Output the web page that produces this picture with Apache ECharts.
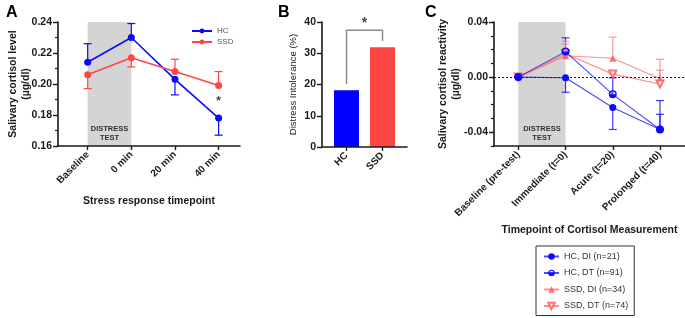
<!DOCTYPE html>
<html>
<head>
<meta charset="utf-8">
<script src="https://cdn.jsdelivr.net/npm/echarts@6/dist/echarts.min.js"></script>
<style>
html, body { margin: 0; padding: 0; background: #fff; }
#chart { width: 685px; height: 318px; }
</style>
</head>
<body>
<div id="chart"></div>
<script>
// panel A - cortisol level
const timeCats = ['Baseline', '0 min', '20 min', '40 min'];
const hcLevel = [0.214, 0.230, 0.203, 0.178];
const hcLevelErr = [0.226, 0.239, 0.193, 0.167];
const ssdLevel = [0.206, 0.217, 0.208, 0.199];
const ssdLevelErr = [0.197, 0.211, 0.216, 0.208];

// panel B - distress intolerance
const groupCats = ['HC', 'SSD'];
const intolerance = [18.2, 31.9];

// panel C - cortisol reactivity
const phaseCats = ['Baseline (pre-test)', 'Immediate (t=0)', 'Acute (t=20)', 'Prolonged (t=40)'];
const hcDI = [0, -0.0005, -0.022, -0.038];
const hcDIErr = [0, -0.011, -0.038, -0.017];
const hcDT = [0, 0.0185, -0.0125, -0.038];
const hcDTErr = [0, 0.0285, -0.0005, -0.027];
const ssdDI = [0, 0.0155, 0.0137, -0.0012];
const ssdDIErr = [0, 0.026, 0.029, 0.013];
const ssdDT = [0, 0.017, 0.0022, -0.005];
const ssdDTErr = [0, 0.024, 0.0022, 0.005];
const reactTicks = [-0.04, 0, 0.04];

const font = 'Arial, "Liberation Sans", sans-serif';
const ink = '#1a1a1a';
const blue = '#0a0aff';
const red = '#ff4646';
// circle with its lower half filled
const halfCircle = 'path://M0,10 A10,10 0 1,1 20,10 A10,10 0 1,1 0,10 Z M3.5,9.5 L16.5,9.5 A6.5,6.5 0 0,0 3.5,9.5 Z';

const pts = arr => arr.map((v, i) => [i, v]);
const errPts = (vals, ends) => vals.map((v, i) => [i, v, ends[i]]);

function errBar(color, cap, opacity) {
    return function (params, api) {
        const p0 = api.coord([api.value(0), api.value(1)]);
        const p1 = api.coord([api.value(0), api.value(2)]);
        const style = { stroke: color, lineWidth: 1.2, opacity: opacity };
        return {
            type: 'group',
            children: [
                { type: 'line', shape: { x1: p0[0], y1: p0[1], x2: p1[0], y2: p1[1] }, style: style },
                { type: 'line', shape: { x1: p1[0] - cap, y1: p1[1], x2: p1[0] + cap, y2: p1[1] }, style: style }
            ]
        };
    };
}

function lineOf() {
    return { show: true, onZero: false, lineStyle: { color: ink, width: 1.6 } };
}
const tickLabel = { color: ink, fontSize: 10.5, fontWeight: 'bold', fontFamily: font };

function catAxis(grid, min, max, names, extra) {
    const idx = names.map((n, i) => i);
    return Object.assign({
        type: 'value', gridIndex: grid, position: 'bottom', min: min, max: max, z: 5,
        splitLine: { show: false },
        axisLine: lineOf(),
        axisTick: { customValues: idx, length: 4, lineStyle: { color: ink, width: 1.4 } },
        axisLabel: Object.assign({}, tickLabel, {
            customValues: idx, rotate: 45, margin: 7, fontSize: 10,
            formatter: v => names[Math.round(v)]
        }),
        nameLocation: 'middle', nameMoveOverlap: false,
        nameTextStyle: { color: ink, fontSize: 10.5, fontWeight: 'bold', fontFamily: font }
    }, extra || {});
}

const areaLabel = {
    show: true, position: 'insideBottom', formatter: 'DISTRESS\nTEST',
    fontSize: 7.5, fontWeight: 'bold', color: '#333', lineHeight: 9, distance: 4, fontFamily: font
};

const chart = echarts.init(document.getElementById('chart'));

chart.setOption({
    animation: false,
    textStyle: { fontFamily: font },
    title: [
        { text: 'A', left: 1, top: 0, textStyle: { fontSize: 16, fontWeight: 'bold', color: '#000' } },
        { text: 'B', left: 273, top: 0, textStyle: { fontSize: 16, fontWeight: 'bold', color: '#000' } },
        { text: 'C', left: 420, top: 0, textStyle: { fontSize: 16, fontWeight: 'bold', color: '#000' } }
    ],
    legend: [
        {
            data: ['HC', 'SSD'], orient: 'vertical', left: 186, top: 22,
            itemWidth: 20, itemHeight: 6, itemGap: 3,
            textStyle: { fontSize: 8, color: '#555' }
        },
        {
            data: ['HC, DI (n=21)', 'HC, DT (n=91)', 'SSD, DI (n=34)', 'SSD, DT (n=74)'],
            orient: 'vertical', left: 536, top: 246,
            itemWidth: 15, itemHeight: 8, itemGap: 7.5,
            padding: [6, 6, 5, 7],
            borderColor: '#333', borderWidth: 1,
            textStyle: { fontSize: 9, lineHeight: 9, color: '#333' }
        }
    ],
    grid: [
        { left: 58, top: 22, width: 182, height: 124 },
        { left: 322, top: 22, width: 85, height: 125 },
        { left: 494, top: 22, width: 191, height: 124 }
    ],
    xAxis: [
        catAxis(0, -0.68, 3.49, timeCats, { name: 'Stress response timepoint', nameGap: 50 }),
        catAxis(1, -0.68, 1.68, groupCats),
        catAxis(2, -0.515, 3.53, phaseCats, { name: 'Timepoint of Cortisol Measurement', nameGap: 79 })
    ],
    yAxis: [
        {
            type: 'value', gridIndex: 0, position: 'left', min: 0.16, max: 0.24, interval: 0.02, z: 5,
            splitLine: { show: false }, axisLine: lineOf(),
            axisTick: { show: true, length: 5, lineStyle: { color: ink, width: 1.4 } },
            minorTick: { show: true, splitNumber: 2, length: 3, lineStyle: { color: ink, width: 1.2 } },
            axisLabel: Object.assign({}, tickLabel, { formatter: v => v.toFixed(2), margin: 6 }),
            name: 'Salivary cortisol level\n(µg/dl)', nameLocation: 'middle', nameRotate: 90, nameGap: 25,
            nameMoveOverlap: false,
            nameTextStyle: { color: ink, fontSize: 10.5, fontWeight: 'bold', lineHeight: 13 }
        },
        {
            type: 'value', gridIndex: 1, position: 'left', min: 0, max: 40, interval: 10, z: 5,
            splitLine: { show: false }, axisLine: lineOf(),
            axisTick: { show: true, length: 5, lineStyle: { color: ink, width: 1.4 } },
            axisLabel: Object.assign({}, tickLabel, { margin: 6 }),
            name: 'Distress Intolerance (%)', nameLocation: 'middle', nameRotate: 90, nameGap: 24,
            nameMoveOverlap: false,
            nameTextStyle: { color: ink, fontSize: 9.5 }
        },
        {
            type: 'value', gridIndex: 2, position: 'left', offset: 0, min: -0.05, max: 0.04, z: 5,
            splitLine: { show: false }, axisLine: lineOf(),
            axisTick: { show: true, customValues: reactTicks, length: 5, lineStyle: { color: ink, width: 1.4 } },
            axisLabel: Object.assign({}, tickLabel, { customValues: reactTicks, formatter: v => v.toFixed(2), margin: 6 }),
            name: 'Salivary cortisol reactivity\n(µg/dl)', nameLocation: 'middle', nameRotate: 90, nameGap: 31,
            nameMoveOverlap: false,
            nameTextStyle: { color: ink, fontSize: 10.5, fontWeight: 'bold', lineHeight: 13 }
        },
        {
            type: 'value', gridIndex: 2, position: 'left', offset: 0, min: -0.05, max: 0.04, interval: 0.01, z: 5,
            splitLine: { show: false }, axisLine: { show: false, onZero: false },
            axisTick: { show: true, length: 3, lineStyle: { color: ink, width: 1.2 } },
            axisLabel: { show: false }
        }
    ],
    series: [
        // ---- A
        {
            type: 'custom', xAxisIndex: 0, yAxisIndex: 0, z: 1,
            renderItem: errBar(blue, 4, 1), data: errPts(hcLevel, hcLevelErr)
        },
        {
            type: 'custom', xAxisIndex: 0, yAxisIndex: 0, z: 1,
            renderItem: errBar(red, 4, 1), data: errPts(ssdLevel, ssdLevelErr)
        },
        {
            name: 'HC', type: 'line', xAxisIndex: 0, yAxisIndex: 0,
            data: pts(hcLevel), symbol: 'circle', symbolSize: 7,
            itemStyle: { color: blue }, lineStyle: { color: blue, width: 1.6 },
            markArea: {
                silent: true, itemStyle: { color: '#d4d4d4' }, label: areaLabel,
                data: [[{ xAxis: 0, yAxis: 0.16 }, { xAxis: 1, yAxis: 0.2405 }]]
            }
        },
        {
            name: 'SSD', type: 'line', xAxisIndex: 0, yAxisIndex: 0,
            data: pts(ssdLevel), symbol: 'circle', symbolSize: 7,
            itemStyle: { color: red }, lineStyle: { color: red, width: 1.6 }
        },
        {
            type: 'scatter', xAxisIndex: 0, yAxisIndex: 0, symbolSize: 0,
            data: [[3, 0.1885]],
            label: { show: true, position: 'inside', formatter: '*', fontSize: 13, fontWeight: 'bold', color: ink }
        },
        // ---- B
        {
            name: 'Distress Intolerance', type: 'bar', xAxisIndex: 1, yAxisIndex: 1, barWidth: 25,
            data: intolerance.map((v, i) => ({ value: [i, v], itemStyle: { color: i === 0 ? '#0000ff' : '#ff4444' } }))
        },
        {
            type: 'line', xAxisIndex: 1, yAxisIndex: 1, symbol: 'none',
            lineStyle: { color: '#8a8a8a', width: 1.5 },
            data: [[0, 20.2], [0, 37.4], [1, 37.4], [1, 33.9]]
        },
        {
            type: 'scatter', xAxisIndex: 1, yAxisIndex: 1, symbolSize: 0,
            data: [[0.5, 39.6]],
            label: { show: true, position: 'inside', formatter: '*', fontSize: 14, fontWeight: 'bold', color: ink }
        },
        // ---- C
        {
            type: 'custom', xAxisIndex: 2, yAxisIndex: 2, z: 1,
            renderItem: errBar(blue, 4, 0.8), data: errPts(hcDI, hcDIErr)
        },
        {
            type: 'custom', xAxisIndex: 2, yAxisIndex: 2, z: 1,
            renderItem: errBar(blue, 4, 0.8), data: errPts(hcDT, hcDTErr)
        },
        {
            type: 'custom', xAxisIndex: 2, yAxisIndex: 2, z: 1,
            renderItem: errBar('#ff7070', 4, 0.7), data: errPts(ssdDI, ssdDIErr)
        },
        {
            type: 'custom', xAxisIndex: 2, yAxisIndex: 2, z: 1,
            renderItem: errBar('#ff7070', 4, 0.7), data: errPts(ssdDT, ssdDTErr)
        },
        {
            name: 'SSD, DI (n=34)', type: 'line', xAxisIndex: 2, yAxisIndex: 2,
            data: pts(ssdDI), symbol: 'triangle', symbolSize: 7,
            itemStyle: { color: '#ff5a5a', opacity: 0.85 }, lineStyle: { color: '#ff6a6a', width: 1.2, opacity: 0.75 },
            markArea: {
                silent: true, itemStyle: { color: '#d4d4d4' }, label: areaLabel,
                data: [[{ xAxis: 0, yAxis: -0.05 }, { xAxis: 1, yAxis: 0.04 }]]
            },
            markLine: {
                silent: true, symbol: 'none', label: { show: false },
                lineStyle: { color: '#222', type: [2, 2], width: 1 },
                data: [{ yAxis: 0 }]
            }
        },
        {
            name: 'SSD, DT (n=74)', type: 'line', xAxisIndex: 2, yAxisIndex: 2,
            data: pts(ssdDT), symbol: 'emptyTriangle', symbolRotate: 180, symbolSize: 7,
            itemStyle: { color: '#ff5a5a', borderWidth: 1.5, opacity: 0.85 },
            lineStyle: { color: '#ff6a6a', width: 1.2, opacity: 0.75 }
        },
        {
            name: 'HC, DT (n=91)', type: 'line', xAxisIndex: 2, yAxisIndex: 2,
            data: pts(hcDT), symbol: halfCircle, symbolSize: 8,
            itemStyle: { color: blue }, lineStyle: { color: blue, width: 1.1, opacity: 0.75 }
        },
        {
            name: 'HC, DI (n=21)', type: 'line', xAxisIndex: 2, yAxisIndex: 2,
            data: pts(hcDI), symbol: 'circle', symbolSize: 7,
            itemStyle: { color: blue }, lineStyle: { color: blue, width: 1.1, opacity: 0.75 }
        }
    ]
});
</script>
</body>
</html>
